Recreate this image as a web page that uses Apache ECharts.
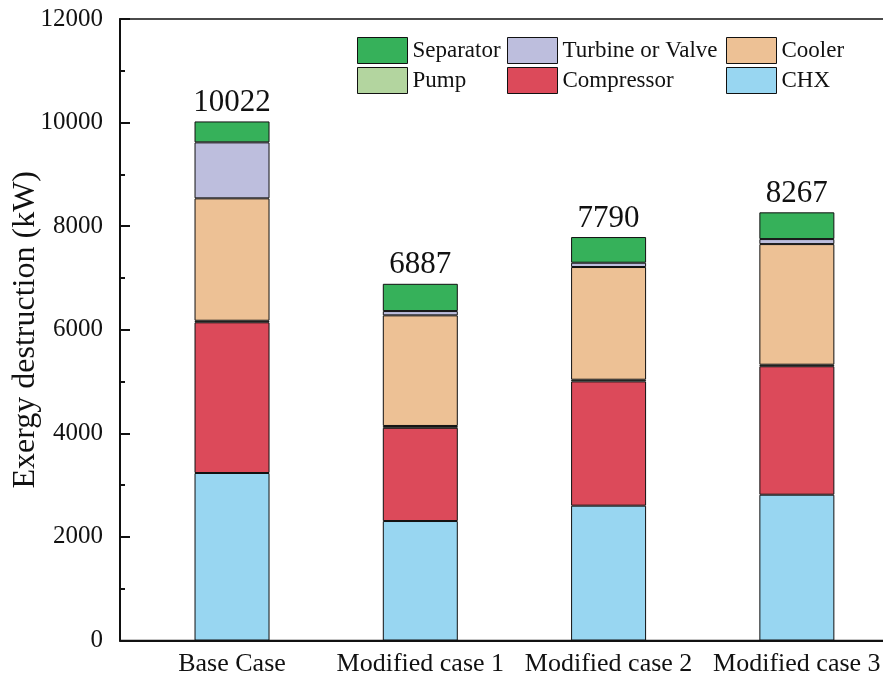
<!DOCTYPE html>
<html>
<head>
<meta charset="utf-8">
<script src="https://cdn.jsdelivr.net/npm/echarts@6/dist/echarts.min.js"></script>
<style>html,body{margin:0;padding:0;background:#fff;}#c{width:883px;height:680px;}</style>
</head>
<body>
<div id="c"></div>
<script>
var categories = ['Base Case', 'Modified case 1', 'Modified case 2', 'Modified case 3'];
var chx        = [3234, 2307, 2603, 2815];
var compressor = [2910, 1800, 2400, 2480];
var pump       = [30, 35, 32, 30];
var cooler     = [2363, 2136, 2176, 2329];
var turbine    = [1081, 83, 83, 97];
var separator  = [404, 526, 496, 516];
var totals     = [10022, 6887, 7790, 8267];
var yTicks     = [0, 2000, 4000, 6000, 8000, 10000, 12000];

var FONT = '"Liberation Serif", "Times New Roman", serif';
function pts(arr) { return arr.map(function (v, i) { return [v, i + 1]; }); }
function mk(name, data, color, extra) {
  var s = {
    name: name, type: 'bar', stack: 'total', barWidth: 75,
    dimensions: ['val', 'pos'],
    encode: { x: 'pos', y: 'val' },
    data: pts(data),
    itemStyle: { color: color, borderColor: '#111', borderWidth: 1 }
  };
  if (extra) for (var k in extra) s[k] = extra[k];
  return s;
}
var legendBase = {
  orient: 'vertical', itemWidth: 50, itemHeight: 26, itemGap: 3, padding: 0, icon: 'rect',
  textStyle: { fontFamily: FONT, fontSize: 23, color: '#111' },
  itemStyle: { borderColor: '#111', borderWidth: 1 }
};
function lg(left, data) {
  var o = {}; for (var k in legendBase) o[k] = legendBase[k];
  o.left = left; o.top = 37; o.data = data; return o;
}
var chart = echarts.init(document.getElementById('c'));
chart.setOption({
  animation: false,
  backgroundColor: '#fff',
  grid: { left: 120, top: 19, width: 771, bottom: 39.5, outerBoundsMode: 'none', containLabel: false,
          show: true, borderColor: '#111', borderWidth: 1.5, backgroundColor: 'transparent' },
  legend: [
    lg(357, ['Separator', 'Pump']),
    lg(507, ['Turbine or Valve', 'Compressor']),
    lg(726, ['Cooler', 'CHX'])
  ],
  xAxis: {
    type: 'value', min: 0.405, max: 4.5, splitNumber: 4,
    splitLine: { show: false },
    axisTick: { show: false },
    axisLine: { show: true, lineStyle: { color: '#111', width: 2 } },
    axisLabel: {
      fontFamily: FONT, fontSize: 26, color: '#111', margin: 11,
      formatter: function (v) {
        var r = Math.round(v);
        if (Math.abs(v - r) < 1e-6 && r >= 1 && r <= categories.length) return categories[r - 1];
        return '';
      }
    }
  },
  yAxis: {
    type: 'value', min: yTicks[0], max: yTicks[yTicks.length - 1], interval: 2000,
    name: 'Exergy destruction (kW)', nameLocation: 'middle', nameGap: 78, nameMoveOverlap: false,
    nameTextStyle: { fontFamily: FONT, fontSize: 32, color: '#111' },
    splitLine: { show: false },
    axisLine: { show: true, lineStyle: { color: '#111', width: 2 } },
    axisTick: { show: true, inside: true, length: 10, lineStyle: { color: '#111', width: 2 } },
    minorTick: { show: true, splitNumber: 2, length: 5, lineStyle: { color: '#111', width: 2 } },
    axisLabel: { fontFamily: FONT, fontSize: 25, color: '#111', margin: 17,
                 formatter: function (v) { return String(v); } }
  },
  series: [
    mk('CHX', chx, '#98D6F1'),
    mk('Compressor', compressor, '#DC4A5A'),
    mk('Pump', pump, '#B3D59F'),
    mk('Cooler', cooler, '#EDC195'),
    mk('Turbine or Valve', turbine, '#BDBEDD'),
    mk('Separator', separator, '#36B15A', {
      label: {
        show: true, position: 'top', distance: 3,
        fontFamily: FONT, fontSize: 31, color: '#111',
        formatter: function (p) { return String(totals[p.dataIndex]); }
      }
    })
  ]
});
</script>
</body>
</html>
